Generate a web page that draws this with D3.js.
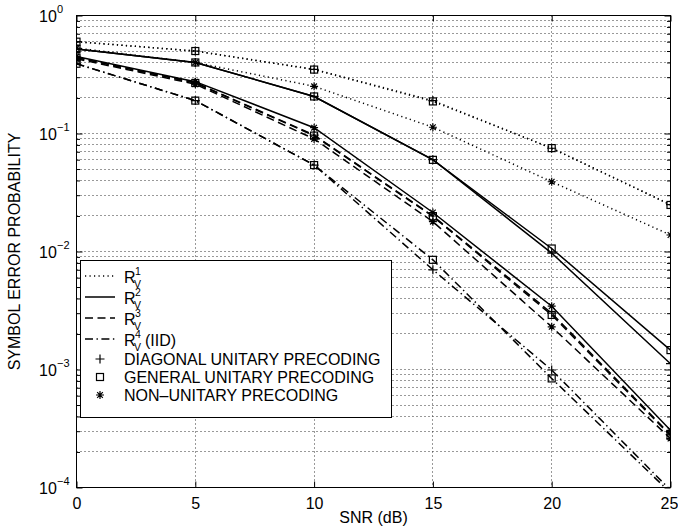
<!DOCTYPE html>
<html><head><meta charset="utf-8">
<script src="https://cdn.jsdelivr.net/npm/d3@7"></script>
<style>body{margin:0;background:#fff;} svg{display:block;font-family:"Liberation Sans",Arial,Helvetica,sans-serif;}</style>
</head><body><svg id="c" width="678" height="529"></svg>
<script>
// ---- data ----
const snr = [0, 5, 10, 15, 20, 25];
const r1Diagonal    = [0.60, 0.50, 0.350, 0.190, 0.0750, 0.0250];
const r1General     = [0.60, 0.50, 0.348, 0.187, 0.0752, 0.0248];
const r1NonUnitary  = [0.53, 0.40, 0.251, 0.113, 0.0390, 0.0138];
const r2Diagonal    = [0.52, 0.40, 0.206, 0.0600, 0.00970, 0.00112];
const r2General     = [0.52, 0.40, 0.206, 0.0598, 0.01060, 0.00146];
const r2NonUnitary  = [0.45, 0.275, 0.112, 0.0214, 0.00344, 0.000305];
const r3Diagonal    = [0.44, 0.270, 0.097, 0.0200, 0.00300, 0.000280];
const r3General     = [0.44, 0.268, 0.096, 0.0198, 0.00290, 0.000275];
const r3NonUnitary  = [0.43, 0.262, 0.090, 0.0179, 0.00230, 0.000260];
const r4Diagonal    = [0.39, 0.190, 0.054, 0.0070, 0.00099, 0.000095];
const r4General     = [0.39, 0.190, 0.054, 0.0085, 0.00084, 0.000090];
const xTickLabels = ["0", "5", "10", "15", "20", "25"];
const yTickExponents = [0, -1, -2, -3, -4];
const lineLegend = [["1", ""], ["2", ""], ["3", ""], ["4", "(IID)"]];
const markerLegend = ["DIAGONAL UNITARY PRECODING", "GENERAL UNITARY PRECODING", "NON\u2013UNITARY PRECODING"];
const xTitle = "SNR (dB)";
const yTitle = "SYMBOL ERROR PROBABILITY";

// ---- layout ----
const L = 76.5, Rr = 670.5, T = 15.5, B = 487.5;
const svg = d3.select("#c");
const x = d3.scaleLinear().domain([0, 25]).range([L, Rr]);
const y = d3.scaleLog().domain([1e-4, 1]).range([B, T]);
const px = v => Math.round(v - 0.5) + 0.5;

const dashes = {dot: "1.2,3.3", solid: null, dash: "8,4.5", dashdot: "8,3.5,1.4,3.5"};
const series = [
  {v: r1Diagonal, d: "dot", m: "plus"}, {v: r1General, d: "dot", m: "square"}, {v: r1NonUnitary, d: "dot", m: "star"},
  {v: r2Diagonal, d: "solid", m: "plus"}, {v: r2General, d: "solid", m: "square"}, {v: r2NonUnitary, d: "solid", m: "star"},
  {v: r3Diagonal, d: "dash", m: "plus"}, {v: r3General, d: "dash", m: "square"}, {v: r3NonUnitary, d: "dash", m: "star"},
  {v: r4Diagonal, d: "dashdot", m: "plus"}, {v: r4General, d: "dashdot", m: "square"}
];

svg.append("rect").attr("width", 678).attr("height", 529).attr("fill", "#fff");

// grid
const grid = svg.append("g").attr("stroke", "#000").attr("stroke-width", 1).attr("stroke-dasharray", "1,3").attr("fill", "none").attr("opacity", 0.8);
snr.slice(1, -1).forEach(s => grid.append("line").attr("x1", px(x(s))).attr("x2", px(x(s))).attr("y1", T).attr("y2", B));
const minorVals = [];
yTickExponents.forEach(e => { if (e < 0) for (let k = 1; k <= 9; k++) minorVals.push(k * Math.pow(10, e)); });
minorVals.forEach(v => { if (v > 1e-4 && v < 1) grid.append("line").attr("x1", L).attr("x2", Rr).attr("y1", px(y(v))).attr("y2", px(y(v))); });

// clip
svg.append("clipPath").attr("id", "clip").append("rect").attr("x", L).attr("y", T).attr("width", Rr - L).attr("height", B - T);
const plot = svg.append("g").attr("clip-path", "url(#clip)");

function marker(g, type, cx, cy) {
  if (type === "plus") g.append("path").attr("d", `M${cx-4.5},${cy}H${cx+4.5}M${cx},${cy-4.5}V${cy+4.5}`);
  else if (type === "square") g.append("rect").attr("x", cx - 3.5).attr("y", cy - 3.5).attr("width", 7).attr("height", 7).attr("fill", "none");
  else { const r = 4, q = r * 0.7071;
    g.append("path").attr("d", `M${cx-r},${cy}H${cx+r}M${cx},${cy-r}V${cy+r}M${cx-q},${cy-q}L${cx+q},${cy+q}M${cx-q},${cy+q}L${cx+q},${cy-q}`); }
}

const line = d3.line().x((d, i) => x(snr[i])).y(d => y(d));
series.forEach(s => {
  plot.append("path").datum(s.v).attr("d", line).attr("fill", "none").attr("stroke", "#000").attr("stroke-width", 1.5)
    .attr("stroke-dasharray", dashes[s.d]);
  const mg = plot.append("g").attr("stroke", "#000").attr("stroke-width", 1.2).attr("fill", "none");
  s.v.forEach((v, i) => marker(mg, s.m, x(snr[i]), y(v)));
});

// axes (inward ticks)
const ax = svg.append("g").attr("font-size", 16);
ax.append("g").attr("transform", `translate(0,${B})`)
  .call(d3.axisBottom(x).tickValues(snr).tickSizeInner(-6).tickSizeOuter(0).tickPadding(10).tickFormat((d, i) => xTickLabels[i]));
ax.append("g").attr("transform", `translate(0,${T})`)
  .call(d3.axisTop(x).tickValues(snr).tickSizeInner(-6).tickSizeOuter(0).tickFormat(""));
const majors = yTickExponents.map(e => Math.pow(10, e));
const minors = minorVals.filter(v => v > 1e-4 && v < 1 && !majors.includes(v));
ax.append("g").attr("transform", `translate(${L},0)`)
  .call(d3.axisLeft(y).tickValues(majors).tickSizeInner(-6).tickSizeOuter(0).tickFormat(""));
ax.append("g").attr("transform", `translate(${Rr},0)`)
  .call(d3.axisRight(y).tickValues(majors).tickSizeInner(-6).tickSizeOuter(0).tickFormat(""));
ax.append("g").attr("transform", `translate(${L},0)`)
  .call(d3.axisLeft(y).tickValues(minors).tickSizeInner(-3.5).tickSizeOuter(0).tickFormat(""));
ax.append("g").attr("transform", `translate(${Rr},0)`)
  .call(d3.axisRight(y).tickValues(minors).tickSizeInner(-3.5).tickSizeOuter(0).tickFormat(""));
ax.selectAll(".domain").remove();
ax.selectAll(".tick line").attr("stroke", "#000").attr("stroke-width", 1);
ax.selectAll(".tick text").attr("font-family", "Liberation Sans, Arial, sans-serif").attr("font-size", 16).attr("fill", "#000");
ax.selectAll(".tick text").filter((d) => d === 25).attr("dx", -1.5);

// y labels with superscripts
yTickExponents.forEach(e => {
  const yy = y(Math.pow(10, e));
  svg.append("text").attr("font-size", 16).attr("x", 39).attr("y", yy + 6).text("10");
  svg.append("text").attr("font-size", 11).attr("x", 57).attr("y", yy - 3).text(e === 0 ? "0" : "\u2212" + (-e));
});

// frame
svg.append("rect").attr("x", L).attr("y", T).attr("width", Rr - L).attr("height", B - T).attr("fill", "none").attr("stroke", "#000").attr("stroke-width", 1);

// titles
svg.append("text").attr("x", (L + Rr) / 2).attr("y", 523).attr("text-anchor", "middle").attr("font-size", 16).text(xTitle);
svg.append("text").attr("transform", `translate(20,${(T + B) / 2}) rotate(-90)`).attr("text-anchor", "middle").attr("font-size", 16).text(yTitle);

// legend
const lg = svg.append("g");
lg.append("rect").attr("x", 80.5).attr("y", 260.5).attr("width", 311).attr("height", 157).attr("fill", "#fff").attr("stroke", "#000").attr("stroke-width", 1);
const lineRowY = [276, 297, 318, 339];
const dashOrder = ["dot", "solid", "dash", "dashdot"];
lineLegend.forEach((lab, i) => {
  const ry = lineRowY[i];
  lg.append("line").attr("x1", 85).attr("x2", 115).attr("y1", ry).attr("y2", ry).attr("stroke", "#000").attr("stroke-width", 1.5).attr("stroke-dasharray", dashes[dashOrder[i]]);
  lg.append("text").attr("x", 124).attr("y", ry + 7).attr("font-size", 16).text("R");
  lg.append("text").attr("x", 135).attr("y", ry - 1).attr("font-size", 10.5).text(lab[0]);
  lg.append("text").attr("x", 134).attr("y", ry + 12).attr("font-size", 10.5).text("V");
  if (lab[1]) lg.append("text").attr("x", 145).attr("y", ry + 7).attr("font-size", 16).text(lab[1]);
});
const markerRowY = [359, 377, 395];
const markerOrder = ["plus", "square", "star"];
markerLegend.forEach((lab, i) => {
  const ry = markerRowY[i];
  const mg = lg.append("g").attr("stroke", "#000").attr("stroke-width", 1.2).attr("fill", "none");
  marker(mg, markerOrder[i], 100, ry);
  lg.append("text").attr("x", 124).attr("y", ry + 6).attr("font-size", 16).text(lab);
});
</script></body></html>
